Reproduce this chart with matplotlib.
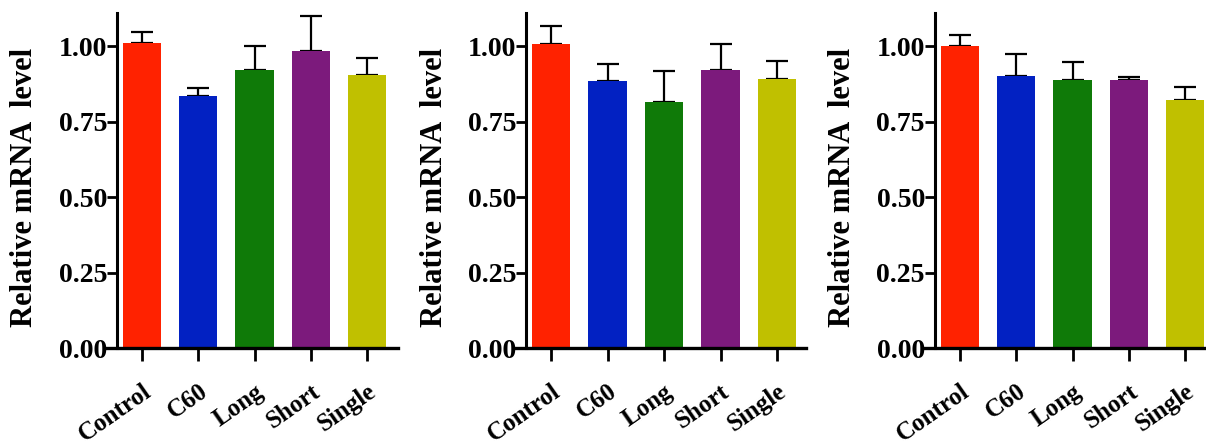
import matplotlib
matplotlib.use("Agg")
import matplotlib.pyplot as plt

groups = ["Control", "C60", "Long", "Short", "Single"]
colors = ["#FF2200", "#0221C2", "#0F7A08", "#7C1A7C", "#C0C000"]

# mean and upper error (SD) for each of the three panels
means_a = [1.009, 0.835, 0.921, 0.983, 0.903]
errs_a = [0.039, 0.028, 0.079, 0.117, 0.058]

means_b = [1.008, 0.885, 0.816, 0.921, 0.892]
errs_b = [0.060, 0.057, 0.101, 0.085, 0.058]

means_c = [1.000, 0.900, 0.887, 0.887, 0.821]
errs_c = [0.038, 0.073, 0.059, 0.010, 0.045]

yticks = [0.0, 0.25, 0.50, 0.75, 1.00]

plt.rcParams["font.family"] = ["Liberation Serif", "DejaVu Serif"]
plt.rcParams["font.weight"] = "bold"

W, H = 1206, 446
fig = plt.figure(figsize=(W / 100, H / 100), dpi=100)

# pixel layout: (left, width, xmin, xmax, ylabel x in axes fraction)
panels = [
    (means_a, errs_a, 105, 293, -0.66, 4.55, -0.225),
    (means_b, errs_b, 515, 291, -0.64, 4.51, -0.227),
    (means_c, errs_c, 924, 282, -0.64, 4.37, -0.238),
]

for means, errs, left, width, xmin, xmax, labx in panels:
    ax = fig.add_axes([left / W, 98 / H, width / W, 335 / H])
    x = list(range(len(groups)))
    ax.bar(x, means, width=0.68, color=colors, edgecolor="none", zorder=2)
    ax.errorbar(x, means, yerr=[[0] * len(errs), errs], fmt="none",
                ecolor="black", elinewidth=1.6, capsize=8, capthick=1.6, zorder=1)

    ax.set_xlim(xmin, xmax)
    ax.set_ylim(0, 1.11)
    ax.spines["top"].set_visible(False)
    ax.spines["right"].set_visible(False)
    ax.spines["left"].set_position(("data", -0.45))
    ax.spines["left"].set_linewidth(2.2)
    ax.spines["bottom"].set_linewidth(2.4)

    ax.set_yticks(yticks)
    ax.set_yticklabels(["%.2f" % v for v in yticks], fontsize=20, fontweight="bold")
    ax.tick_params(axis="y", direction="out", length=7, width=2, pad=0)
    ax.set_xticks(x)
    ax.set_xticklabels(groups, fontsize=18, fontweight="bold", rotation=35,
                       ha="right", va="top", rotation_mode="anchor")
    ax.tick_params(axis="x", direction="out", length=9, width=2, pad=14)

    ax.set_ylabel("Relative mRNA  level", fontsize=22, fontweight="bold")
    ax.yaxis.set_label_coords(labx, 0.48)

fig.savefig("out.png", dpi=100)
